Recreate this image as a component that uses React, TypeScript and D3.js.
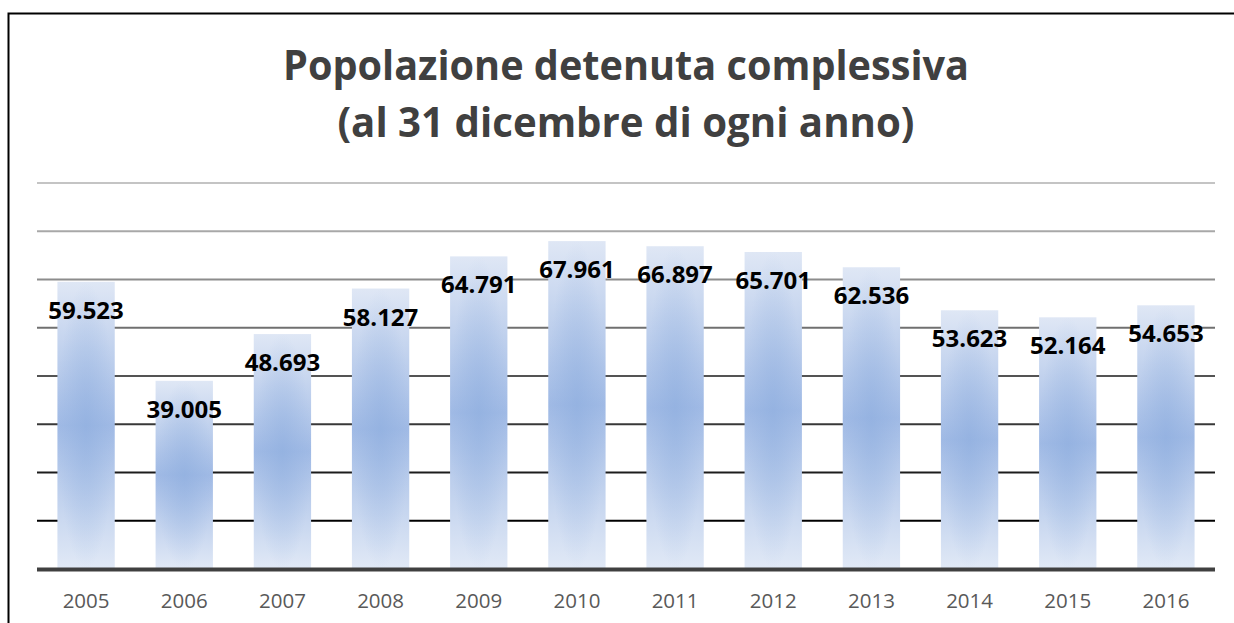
import React from "react";
import * as d3 from "d3";

const years = ["2005","2006","2007","2008","2009","2010","2011","2012","2013","2014","2015","2016"];
const detainees = [59523, 39005, 48693, 58127, 64791, 67961, 66897, 65701, 62536, 53623, 52164, 54653];
const valueLabels = ["59.523","39.005","48.693","58.127","64.791","67.961","66.897","65.701","62.536","53.623","52.164","54.653"];
const gridTicks = [10000, 20000, 30000, 40000, 50000, 60000, 70000, 80000];
const titleLines = ["Popolazione detenuta complessiva", "(al 31 dicembre di ogni anno)"];

const W = 1234;
const H = 623;
const plotLeft = 37;
const plotRight = 1215;
const baseY = 569;
const topY = 183;

export default function App() {
  const x = d3.scaleBand<string>().domain(years).range([plotLeft, plotRight]).paddingInner(0.416).paddingOuter(0.208);
  const y = d3.scaleLinear().domain([0, 80000]).range([baseY, topY]);
  const gridColor = d3.scaleLinear<string>().domain([10000, 80000]).range(["#000000", "#c4c4c4"]).interpolate(d3.interpolateRgb);

  return (
    <svg width={W} height={H} style={{ position: "absolute", left: 0, top: 0, background: "#fff" }}>
      <defs>
        <linearGradient id="barGrad" x1="0" y1="0" x2="0" y2="1">
          <stop offset="0" stopColor="#dfe7f5" />
          <stop offset="0.5" stopColor="#a0bae5" />
          <stop offset="1" stopColor="#e1e9f6" />
        </linearGradient>
        <radialGradient id="barGlow" cx="0.5" cy="0.5" r="0.5">
          <stop offset="0" stopColor="#8aabdd" stopOpacity="0.5" />
          <stop offset="1" stopColor="#8aabdd" stopOpacity="0" />
        </radialGradient>
      </defs>
      <rect x={0} y={0} width={W} height={H} fill="#fff" />
      <path d={`M8.5,${H} V13.5 H${W}`} fill="none" stroke="#000" strokeWidth={2} />

      {titleLines.map((t, i) => (
        <text key={t} x={626} y={80 + i * 57} textAnchor="middle" fontFamily="'Open Sans', sans-serif" fontWeight={700}
          fontSize={42} fill="#404040" textLength={i === 0 ? 686 : 577} lengthAdjust="spacingAndGlyphs">{t}</text>
      ))}

      {gridTicks.map((t) => (
        <line key={t} x1={plotLeft} x2={plotRight} y1={y(t)} y2={y(t)} stroke={gridColor(t)} strokeWidth={2} />
      ))}

      {years.map((yr, i) => {
        const bx = x(yr)!;
        const by = y(detainees[i]);
        return (
          <g key={yr}>
            <rect x={bx} y={by} width={x.bandwidth()} height={baseY - by} fill="url(#barGrad)" />
            <rect x={bx} y={by} width={x.bandwidth()} height={baseY - by} fill="url(#barGlow)" />
          </g>
        );
      })}

      <line x1={plotLeft} x2={plotRight} y1={baseY + 0.5} y2={baseY + 0.5} stroke="#404040" strokeWidth={4} />

      {years.map((yr, i) => (
        <text key={"v" + yr} x={x(yr)! + x.bandwidth() / 2} y={y(detainees[i]) + 37} textAnchor="middle"
          fontFamily="'Open Sans', sans-serif" fontWeight={700} fontSize={24} fill="#000">{valueLabels[i]}</text>
      ))}

      {years.map((yr) => (
        <text key={"x" + yr} x={x(yr)! + x.bandwidth() / 2} y={608} textAnchor="middle"
          fontFamily="'Open Sans', sans-serif" fontSize={20.5} fill="#595959">{yr}</text>
      ))}
    </svg>
  );
}
